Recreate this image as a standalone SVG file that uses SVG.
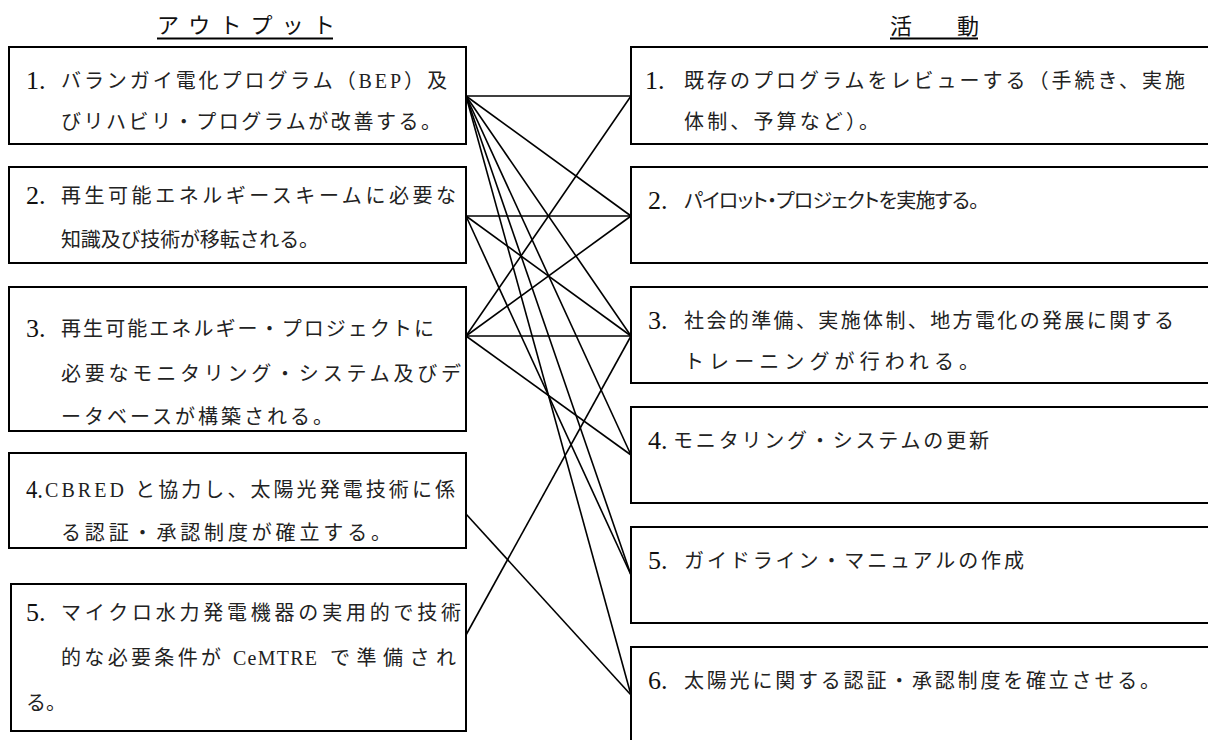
<svg xmlns="http://www.w3.org/2000/svg" width="1208" height="740" viewBox="0 0 1208 740">
<style>
.box{fill:#fff;stroke:#000;stroke-width:2}
.num{font-family:"Liberation Serif","Times New Roman",serif;font-size:26px;fill:#111}
.t{font-family:"Liberation Serif","Noto Sans CJK JP",serif;font-size:20px;fill:#222}
.p{font-feature-settings:"palt"}
.title{font-family:"Liberation Serif","Noto Sans CJK JP",serif;font-size:22px;fill:#111}
.ul{stroke:#000;stroke-width:2}
.conn line{stroke:#000;stroke-width:1.6}
</style>
<rect width="1208" height="740" fill="#fff"/>
<g id="titles">
<text class="title" x="157" y="33" textLength="178" lengthAdjust="spacing">アウトプット</text>
<line class="ul" x1="157" y1="38.5" x2="333" y2="38.5"/>
<text class="title" x="890" y="34" textLength="89" lengthAdjust="spacing">活　動</text>
<line class="ul" x1="890" y1="38.5" x2="978" y2="38.5"/>
</g>
<g id="connectors" class="conn">
<line x1="466" y1="96" x2="631" y2="96"/>
<line x1="466" y1="96" x2="631" y2="216"/>
<line x1="466" y1="96" x2="631" y2="336"/>
<line x1="466" y1="96" x2="631" y2="455"/>
<line x1="466" y1="96" x2="631" y2="575"/>
<line x1="466" y1="96" x2="631" y2="695"/>
<line x1="466" y1="216" x2="631" y2="216"/>
<line x1="466" y1="216" x2="631" y2="336"/>
<line x1="466" y1="216" x2="631" y2="575"/>
<line x1="466" y1="336" x2="631" y2="96"/>
<line x1="466" y1="336" x2="631" y2="216"/>
<line x1="466" y1="336" x2="631" y2="336"/>
<line x1="466" y1="336" x2="631" y2="455"/>
<line x1="466" y1="514" x2="631" y2="695"/>
<line x1="466" y1="635" x2="631" y2="336"/>
</g>
<g id="out1">
<rect class="box" x="9" y="47" width="457" height="97"/>
<text class="num" x="26" y="89">1.</text>
<text class="t" x="61" y="88" textLength="386" lengthAdjust="spacing">バランガイ電化プログラム（BEP）及</text>
<text class="t" x="61" y="129" textLength="380" lengthAdjust="spacing">びリハビリ・プログラムが改善する。</text>
</g>
<g id="out2">
<rect class="box" x="9" y="167" width="457" height="96"/>
<text class="num" x="26" y="204">2.</text>
<text class="t" x="61" y="203" textLength="395" lengthAdjust="spacing">再生可能エネルギースキームに必要な</text>
<text class="t" x="61" y="247" textLength="258" lengthAdjust="spacing">知識及び技術が移転される。</text>
</g>
<g id="out3">
<rect class="box" x="9" y="287" width="457" height="144"/>
<text class="num" x="26" y="337">3.</text>
<text class="t" x="61" y="336" textLength="373" lengthAdjust="spacing">再生可能エネルギー・プロジェクトに</text>
<text class="t" x="61" y="381" textLength="400" lengthAdjust="spacing">必要なモニタリング・システム及びデ</text>
<text class="t" x="61" y="424" textLength="272" lengthAdjust="spacing">ータベースが構築される。</text>
</g>
<g id="out4">
<rect class="box" x="9" y="453" width="457" height="95"/>
<text class="num" x="26" y="498" textLength="17" lengthAdjust="spacingAndGlyphs">4.</text>
<text class="t" x="45" y="497" textLength="410" lengthAdjust="spacing">CBRED と協力し、太陽光発電技術に係</text>
<text class="t" x="61" y="540" textLength="330" lengthAdjust="spacing">る認証・承認制度が確立する。</text>
</g>
<g id="out5">
<rect class="box" x="11" y="584" width="455" height="147"/>
<text class="num" x="26" y="621">5.</text>
<text class="t" x="61" y="620" textLength="400" lengthAdjust="spacing">マイクロ水力発電機器の実用的で技術</text>
<text class="t" x="61" y="665" textLength="160" lengthAdjust="spacing">的な必要条件が</text>
<text class="t" x="233" y="665" textLength="84" lengthAdjust="spacing">CeMTRE</text>
<text class="t" x="330" y="665" textLength="126" lengthAdjust="spacing">で準備され</text>
<text class="t" x="26" y="710">る。</text>
</g>
<g id="act1">
<rect class="box" x="631" y="47" width="620" height="97"/>
<text class="num" x="645" y="89">1.</text>
<text class="t" x="684" y="88" textLength="501" lengthAdjust="spacing">既存のプログラムをレビューする（手続き、実施</text>
<text class="t" x="684" y="129" textLength="195" lengthAdjust="spacing">体制、予算など）。</text>
</g>
<g id="act2">
<rect class="box" x="631" y="167" width="620" height="96"/>
<text class="num" x="648" y="209">2.</text>
<text class="t p" x="684" y="208" textLength="295" lengthAdjust="spacing">パイロット・プロジェクトを実施する。</text>
</g>
<g id="act3">
<rect class="box" x="631" y="287" width="620" height="96"/>
<text class="num" x="648" y="329">3.</text>
<text class="t" x="684" y="328" textLength="490" lengthAdjust="spacing">社会的準備、実施体制、地方電化の発展に関する</text>
<text class="t" x="684" y="369" textLength="295" lengthAdjust="spacing">トレーニングが行われる。</text>
</g>
<g id="act4">
<rect class="box" x="631" y="407" width="620" height="96"/>
<text class="num" x="648" y="449">4.</text>
<text class="t" x="673" y="448" textLength="316" lengthAdjust="spacing">モニタリング・システムの更新</text>
</g>
<g id="act5">
<rect class="box" x="631" y="527" width="620" height="96"/>
<text class="num" x="648" y="569">5.</text>
<text class="t" x="684" y="568" textLength="340" lengthAdjust="spacing">ガイドライン・マニュアルの作成</text>
</g>
<g id="act6">
<rect class="box" x="631" y="647" width="620" height="120"/>
<text class="num" x="648" y="689">6.</text>
<text class="t" x="684" y="688" textLength="476" lengthAdjust="spacing">太陽光に関する認証・承認制度を確立させる。</text>
</g>
</svg>
